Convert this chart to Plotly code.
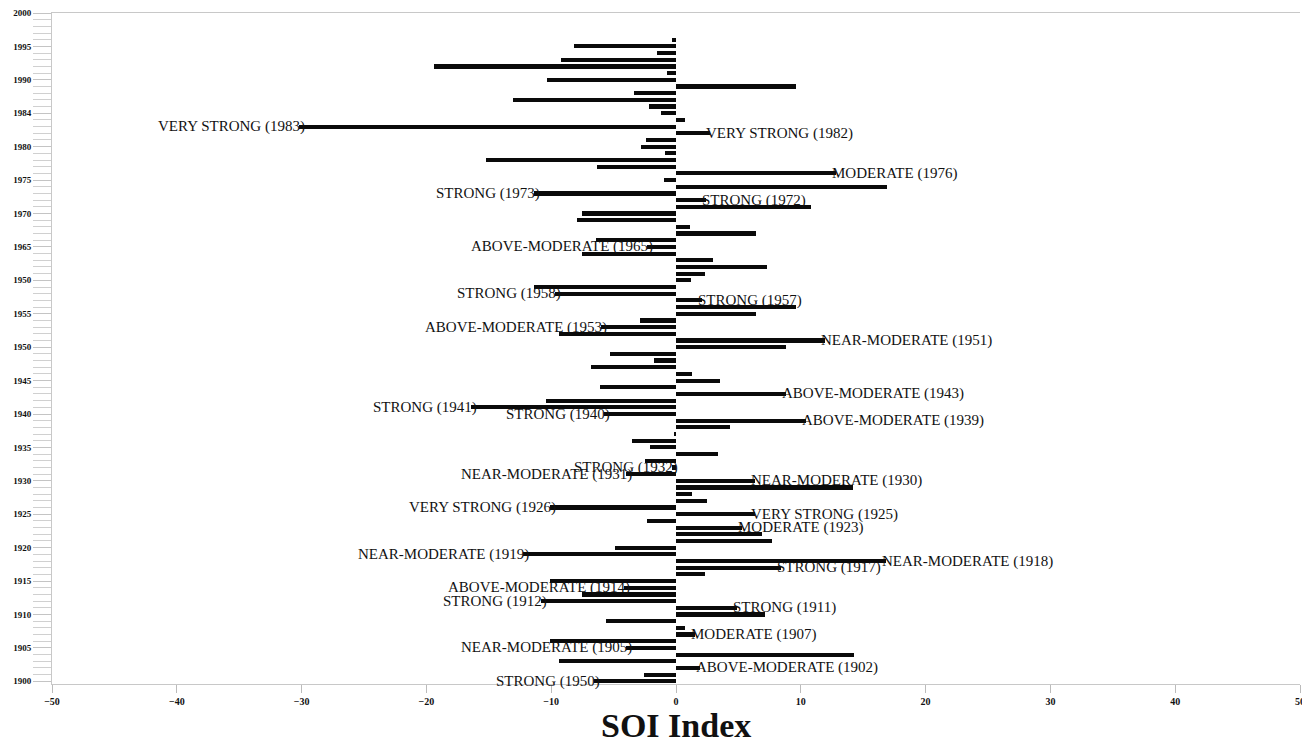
import plotly.graph_objects as go

years = list(range(1900, 1997))
soi = [
    -6.6, -2.6, 1.9, -9.4, 14.3, -4.0, -10.1, 1.5, 0.7, -5.6,      # 1900-1909
    7.1, 4.9, -10.8, -7.5, -4.2, -10.1, 2.3, 8.4, 16.8, -12.3,     # 1910-1919
    -4.9, 7.7, 6.9, 5.3, -2.3, 6.3, -10.1, 2.5, 1.3, 14.2,         # 1920-1929
    6.3, -4.0, -0.3, -2.5, 3.4, -2.1, -3.5, -0.2, 4.3, 10.4,       # 1930-1939
    -5.8, -16.4, -10.4, 8.8, -6.1, 3.5, 1.3, -6.8, -1.8, -5.3,     # 1940-1949
    8.8, 11.9, -9.4, -6.0, -2.9, 6.4, 9.6, 2.1, -9.7, -11.4,       # 1950-1959
    1.2, 2.3, 7.3, 3.0, -7.5, -2.3, -6.4, 6.4, 1.1, -7.9,          # 1960-1969
    -7.5, 10.8, 2.4, -11.4, 16.9, -1.0, 12.8, -6.3, -15.2, -0.9,   # 1970-1979
    -2.8, -2.4, 2.7, -30.2, 0.75, -1.2, -2.2, -13.1, -3.4, 9.6,    # 1980-1989
    -10.3, -0.7, -19.4, -9.2, -1.5, -8.2, -0.3,                    # 1990-1996
]

label_years = [1983, 1982, 1976, 1973, 1972, 1965, 1958, 1957, 1953, 1951,
               1943, 1941, 1940, 1939, 1932, 1931, 1930, 1926, 1925, 1923,
               1919, 1918, 1917, 1914, 1912, 1911, 1907, 1905, 1902, 1900]
label_texts = ["VERY STRONG (1983)", "VERY STRONG (1982)", "MODERATE (1976)",
               "STRONG (1973)", "STRONG (1972)", "ABOVE-MODERATE (1965)",
               "STRONG (1958)", "STRONG (1957)", "ABOVE-MODERATE (1953)",
               "NEAR-MODERATE (1951)", "ABOVE-MODERATE (1943)", "STRONG (1941)",
               "STRONG (1940)", "ABOVE-MODERATE (1939)", "STRONG (1932)",
               "NEAR-MODERATE (1931)", "NEAR-MODERATE (1930)", "VERY STRONG (1926)",
               "VERY STRONG (1925)", "MODERATE (1923)", "NEAR-MODERATE (1919)",
               "NEAR-MODERATE (1918)", "STRONG (1917)", "ABOVE-MODERATE (1914)",
               "STRONG (1912)", "STRONG (1911)", "MODERATE (1907)",
               "NEAR-MODERATE (1905)", "ABOVE-MODERATE (1902)", "STRONG (1950)"]

y_tickvals = list(range(1900, 2001, 5))
y_ticktext = ["1900", "1905", "1910", "1915", "1920", "1925", "1930", "1935",
              "1940", "1945", "1950", "1955", "1950", "1965", "1970", "1975",
              "1980", "1984", "1990", "1995", "2000"]
x_tickvals = [-50, -40, -30, -20, -10, 0, 10, 20, 30, 40, 50]

fig = go.Figure()
fig.add_trace(go.Bar(
    x=soi, y=years, orientation="h", width=0.62,
    marker=dict(color="#0a0a0a", line=dict(width=0)),
    showlegend=False,
))

soi_by_year = dict(zip(years, soi))
for yr, txt in zip(label_years, label_texts):
    v = soi_by_year[yr]
    neg = v < 0
    fig.add_annotation(
        x=v, y=yr, text=txt, showarrow=False,
        xanchor="right" if neg else "left", yanchor="middle",
        xshift=8 if neg else -6,
        font=dict(family="Liberation Serif", size=15, color="#111"),
    )

fig.add_annotation(
    x=0, xref="x", y=0, yref="paper", yanchor="top", yshift=-21,
    text="<b>SOI Index</b>", showarrow=False,
    font=dict(family="Liberation Serif", size=34, color="#111"),
)

# page body has an 8px default margin, so the figure is sized to fit the window
fig.update_layout(
    width=1302, height=742,
    paper_bgcolor="white", plot_bgcolor="white",
    margin=dict(l=44, r=10, t=5, b=66),
    bargap=0,
    xaxis=dict(
        range=[-50, 50], tickvals=x_tickvals, automargin=False,
        showgrid=False, zeroline=False,
        showline=True, linecolor="#c8c8c8", linewidth=1, mirror=True,
        ticks="outside", ticklen=8, tickcolor="#bbbbbb",
        tickfont=dict(family="Liberation Serif", size=10, color="#111", weight="bold"),
    ),
    yaxis=dict(
        range=[1899.6, 2000], tickvals=y_tickvals, ticktext=y_ticktext,
        automargin=False,
        showgrid=False, zeroline=False,
        showline=True, linecolor="#c8c8c8", linewidth=1,
        ticks="outside", ticklen=18, tickcolor="#c4c4c4",
        tickfont=dict(family="Liberation Serif", size=9, color="#111", weight="bold"),
        minor=dict(dtick=1, ticks="outside", ticklen=18, tickcolor="#d0d0d0"),
    ),
)

fig.write_html("out.html")
